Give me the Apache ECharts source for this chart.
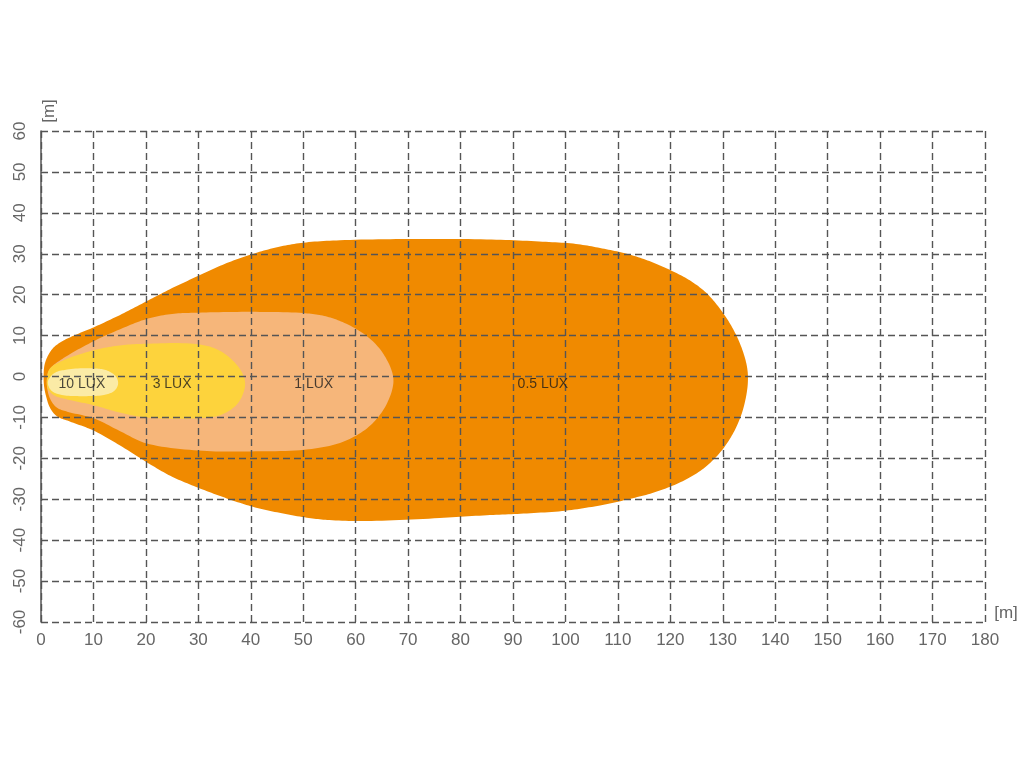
<!DOCTYPE html>
<html><head><meta charset="utf-8">
<script src="https://cdn.jsdelivr.net/npm/echarts@6/dist/echarts.min.js"></script>
<style>html,body{margin:0;padding:0;background:#fff}#c{width:1024px;height:768px}</style>
</head><body><div id="c"></div>
<script>
// Axis ranges (metres)
const xRange = [0, 180, 10];
const yRange = [-60, 60, 10];
const unitLabel = '[m]';

// Iso-lux contours, [distance x, lateral y] in metres
const lux05 = [[0.5,0],[0.7,3],[1.5,5.5],[2.5,7.2],[4.3,8.8],[7,10.4],[10,12],[15,15],[20,18.3],[25,21.6],[30,24.6],[35,27.5],[40,29.8],[45,31.6],[50,32.7],[57,33.3],[70,33.6],[85,33.5],[95,33],[102,32.4],[107,31.3],[111.7,30],[116,28.2],[120,26],[123.7,23.5],[126.8,20.5],[129.5,16.5],[131.8,12],[133.6,7],[134.6,2.5],[134.8,-0.7],[134.5,-4.5],[133.5,-9.5],[131.7,-14.5],[129.2,-19],[126,-22.8],[122,-25.8],[117,-28.3],[112,-30],[106.6,-31.5],[100,-32.8],[92,-33.5],[85,-33.9],[76,-34.6],[63,-35.3],[55,-35.1],[50.7,-34.5],[45,-33.2],[40,-31.7],[35,-29.6],[30,-27.2],[25,-24.5],[21,-21.6],[15,-16.8],[10,-13.2],[5.5,-11],[3,-9.7],[1.7,-7.6],[1,-5],[0.6,-2.5]];
const lux1 = [[1.2,0],[1.8,2],[4.3,4.5],[10,8.6],[15,11.5],[20,14],[25,15.3],[30,15.6],[40,15.8],[50,15.5],[54,14.8],[57.5,13.3],[62,10],[65.3,5.5],[67.2,-0.7],[65.8,-7],[62.5,-12.3],[57.5,-16],[51,-17.8],[40,-18.3],[30,-18.1],[20,-16.3],[15,-13.3],[10,-10.2],[5,-8.6],[3,-7.6],[1.8,-5.6],[1.2,-3]];
const lux3 = [[1.1,-1],[1.6,1.8],[4,3.8],[10,6.4],[15,7.6],[20,8],[29,8],[33.3,6.8],[36.5,4],[38.5,0.5],[38.9,-2.4],[37.5,-6.6],[34.3,-9.4],[30,-10.2],[20,-10],[15,-8.8],[10,-7],[5,-5.6],[2.5,-4.6],[1.3,-3]];
const lux10 = [[1.3,-1.3],[2.5,0.8],[5,1.7],[10,2],[12.5,1.5],[14.3,0],[14.7,-1.8],[14,-3.5],[12,-4.5],[8,-4.8],[4,-4.5],[2,-3.5]];

const contourNames = ['0.5 LUX', '1 LUX', '3 LUX', '10 LUX'];
const contours = [lux05, lux1, lux3, lux10];
const contourColors = ['#F08A00', '#F6B67A', '#FDD33C', '#FBEBA6'];
// label anchor points [x, y] per contour
const labelPoints = [[95.7,-1.8],[52,-1.8],[25,-1.8],[7.8,-1.8]];

const chart = echarts.init(document.getElementById('c'));
const font = '"Liberation Sans", Arial, Helvetica, sans-serif';

// closed centripetal Catmull-Rom outline through projected pixel points (drawing only)
function smoothClosed(p, steps) {
  const n = p.length, out = [];
  const dist = function (a, b) { return Math.pow(Math.hypot(b[0] - a[0], b[1] - a[1]), 0.5) || 1e-6; };
  for (let i = 0; i < n; i++) {
    const P0 = p[(i - 1 + n) % n], P1 = p[i], P2 = p[(i + 1) % n], P3 = p[(i + 2) % n];
    const d01 = dist(P0, P1), d12 = dist(P1, P2), d23 = dist(P2, P3);
    const m1 = [], m2 = [];
    for (let k = 0; k < 2; k++) {
      m1[k] = ((P1[k] - P0[k]) / d01 - (P2[k] - P0[k]) / (d01 + d12) + (P2[k] - P1[k]) / d12) * d12;
      m2[k] = ((P2[k] - P1[k]) / d12 - (P3[k] - P1[k]) / (d12 + d23) + (P3[k] - P2[k]) / d23) * d12;
    }
    for (let s = 0; s < steps; s++) {
      const t = s / steps, t2 = t * t, t3 = t2 * t;
      const h00 = 2 * t3 - 3 * t2 + 1, h10 = t3 - 2 * t2 + t, h01 = -2 * t3 + 3 * t2, h11 = t3 - t2;
      out.push([
        h00 * P1[0] + h10 * m1[0] + h01 * P2[0] + h11 * m2[0],
        h00 * P1[1] + h10 * m1[1] + h01 * P2[1] + h11 * m2[1]
      ]);
    }
  }
  return out;
}

function polySeries(i) {
  const pts = contours[i];
  return {
    type: 'custom',
    name: contourNames[i],
    coordinateSystem: 'cartesian2d',
    z: -1 + i * 0.01,
    silent: true,
    data: pts,
    renderItem: function (params, api) {
      if (params.dataIndex !== 0) return null;
      const p = pts.map(function (d) { return api.coord(d); });
      return {
        type: 'polygon',
        shape: { points: smoothClosed(p, 12) },
        style: { fill: contourColors[i], stroke: null }
      };
    }
  };
}

const series = contours.map(function (c, i) { return polySeries(i); });
series.push({
  type: 'scatter',
  symbolSize: 0,
  silent: true,
  z: 10,
  data: labelPoints.map(function (p, i) { return { value: p, name: contourNames[i] }; }),
  label: {
    show: true, position: 'inside', formatter: '{b}',
    color: '#1c1c1c', fontSize: 14, fontFamily: font
  }
});

const dashed = { color: '#555555', width: 1.4, type: [7, 4] };

chart.setOption({
  animation: false,
  backgroundColor: '#ffffff',
  grid: { left: 41, right: 39, top: 131, bottom: 146, containLabel: false },
  xAxis: {
    type: 'value', min: xRange[0], max: xRange[1], interval: xRange[2],
    axisLine: { show: false, onZero: false },
    axisTick: { show: false },
    splitLine: { show: true, lineStyle: dashed },
    axisLabel: { color: '#666666', fontSize: 17, fontFamily: font, margin: 10 }
  },
  yAxis: {
    type: 'value', min: yRange[0], max: yRange[1], interval: yRange[2],
    axisLine: { show: true, onZero: false, lineStyle: { color: '#555', width: 1.5 } },
    axisTick: { show: false },
    splitLine: { show: true, lineStyle: dashed },
    axisLabel: { color: '#666666', fontSize: 17, fontFamily: font, margin: 12, rotate: 90 }
  },
  graphic: [
    { type: 'text', x: 49, y: 111, rotation: Math.PI / 2,
      style: { text: unitLabel, fill: '#666666', font: '17px ' + font, align: 'center', verticalAlign: 'middle' } },
    { type: 'text', x: 1006, y: 613,
      style: { text: unitLabel, fill: '#666666', font: '17px ' + font, align: 'center', verticalAlign: 'middle' } }
  ],
  series: series
});
</script>
</body></html>
